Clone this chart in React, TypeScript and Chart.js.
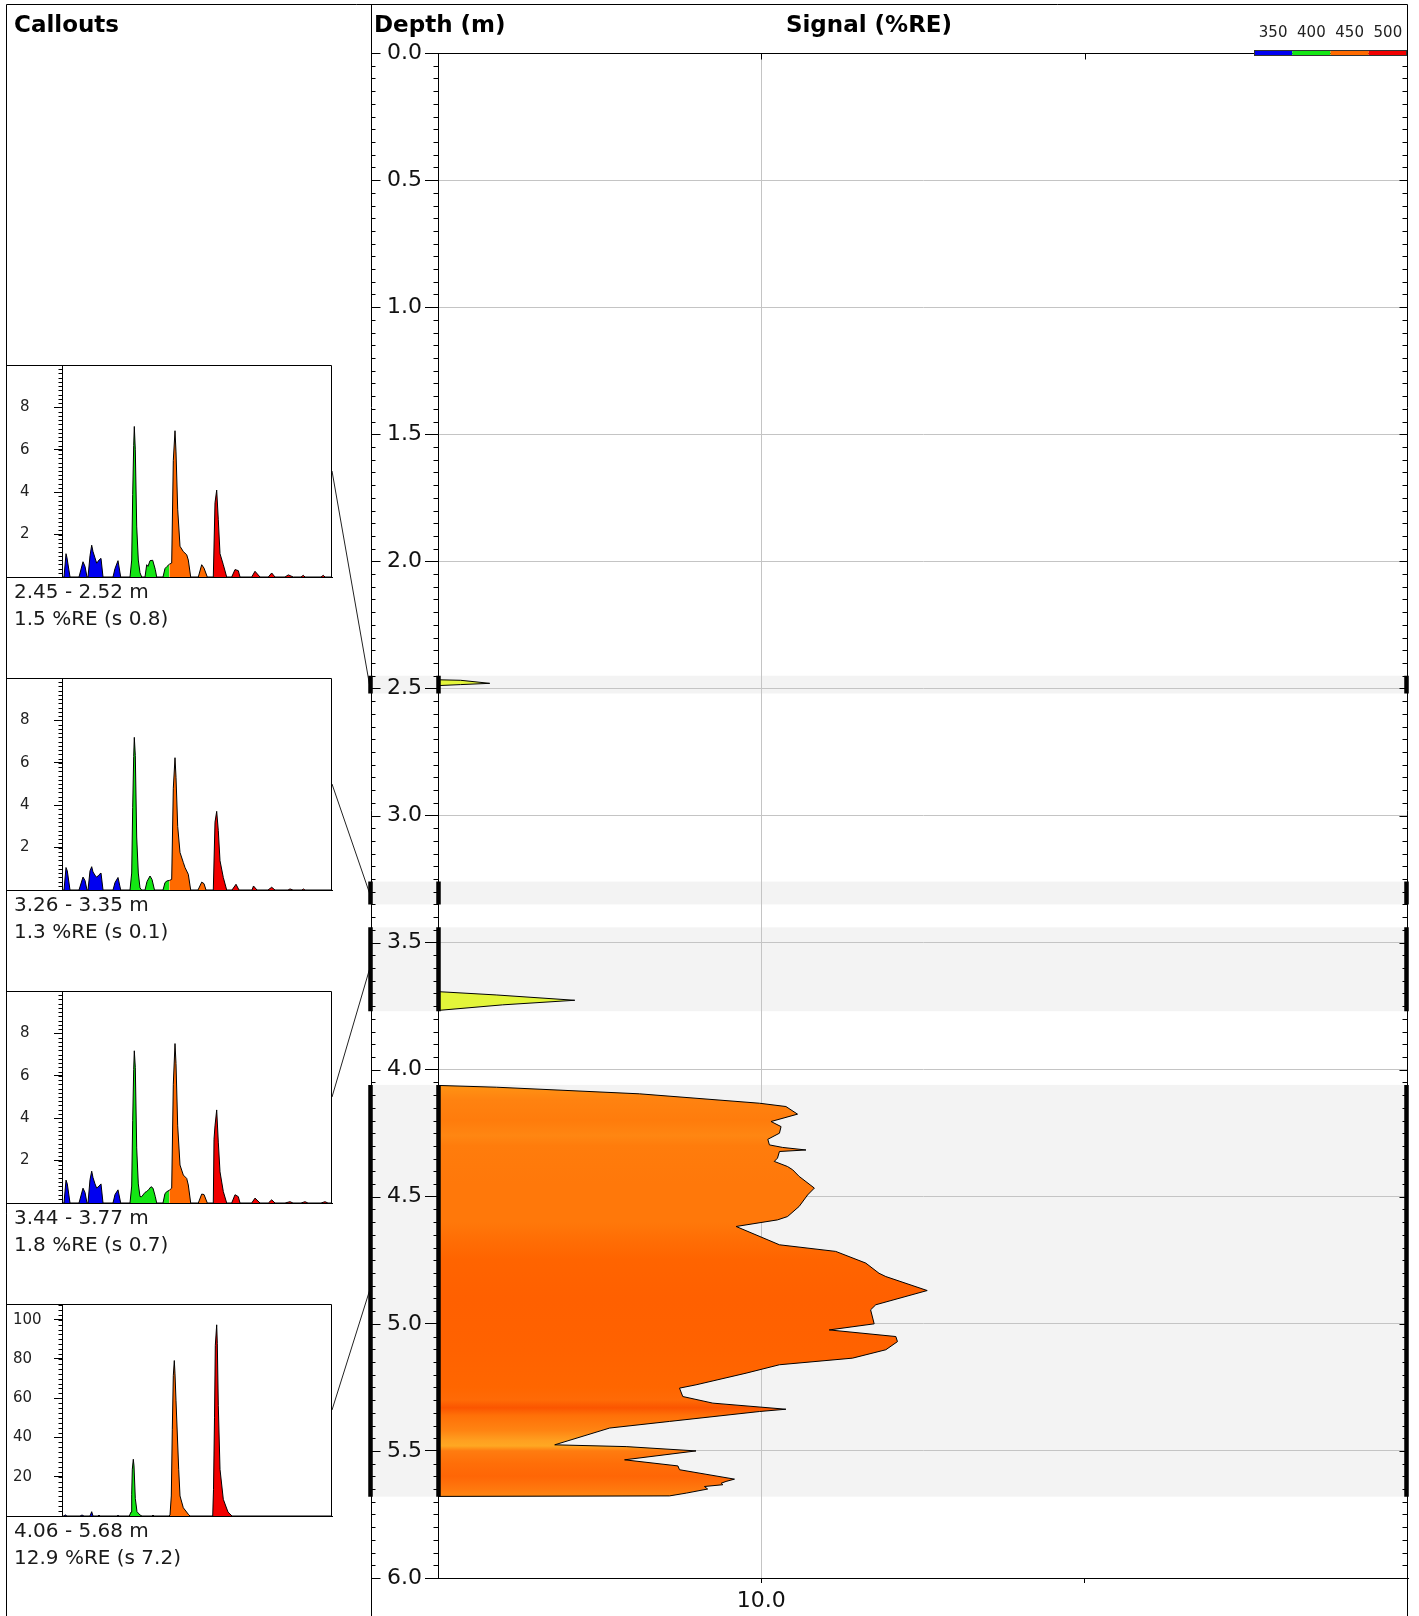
import { useEffect, useRef } from 'react';
import { Chart, registerables } from 'chart.js';

Chart.register(...registerables);

const FONT = "'DejaVu Sans', 'Liberation Sans', sans-serif";

// ---------- Depth ranges (callouts) ----------
const rangeStart = [2.45, 3.26, 3.44, 4.06];
const rangeEnd = [2.52, 3.35, 3.77, 5.68];
const rangeMean = [1.5, 1.3, 1.8, 12.9];
const rangeSd = [0.8, 0.1, 0.7, 7.2];

// ---------- Main log profile (signal %RE vs depth m) ----------
const profileSignal = [0, 1.81, 6.23, 9.94, 10.76, 11.12, 10.3, 10.61, 10.56, 10.2, 10.25, 10.66, 11.38, 10.56, 10.5, 10.4, 10.81, 10.97, 11.17, 11.64, 11.43, 11.17, 10.81, 10.5, 9.22, 10.56, 12.3, 13.23, 13.64, 13.85, 15.13, 13.54, 13.38, 13.49, 12.1, 14.16, 14.21, 13.85, 12.82, 10.56, 9.53, 7.98, 7.47, 7.57, 8.5, 10.76, 9.94, 7.16, 5.31, 3.61, 5.82, 7.98, 5.77, 7.42, 7.47, 9.17, 8.91, 8.76, 8.81, 8.24, 8.34, 7.68, 7.16, 0, 0];
const profileDepth = [4.062, 4.069, 4.095, 4.132, 4.145, 4.175, 4.204, 4.224, 4.25, 4.274, 4.296, 4.306, 4.316, 4.322, 4.348, 4.361, 4.381, 4.394, 4.42, 4.466, 4.493, 4.538, 4.578, 4.591, 4.617, 4.689, 4.715, 4.761, 4.801, 4.814, 4.869, 4.925, 4.945, 5.0, 5.024, 5.05, 5.07, 5.102, 5.135, 5.161, 5.194, 5.24, 5.253, 5.286, 5.312, 5.336, 5.345, 5.384, 5.41, 5.476, 5.483, 5.5, 5.535, 5.559, 5.574, 5.611, 5.62, 5.627, 5.633, 5.64, 5.65, 5.666, 5.677, 5.679, 4.062];
const profileColorDepth = [4.06, 4.12, 4.2, 4.26, 4.3, 4.45, 4.6, 4.68, 4.75, 4.9, 5.1, 5.25, 5.3, 5.33, 5.36, 5.42, 5.46, 5.48, 5.5, 5.55, 5.6, 5.65, 5.68];
const profileColor = ['#ff9414', '#ff8210', '#ff7c0c', '#ff8612', '#ff7c0c', '#ff780a', '#ff780a', '#ff6c04', '#ff6400', '#ff6000', '#ff6200', '#ff6600', '#ff6a06', '#fb5500', '#ff7008', '#ff8412', '#ffa020', '#ffa822', '#ff7c10', '#ff6e08', '#ff6606', '#ff780e', '#ff8812'];

const spikeASignal = [0, 0.7, 1.6, 0.7, 0, 0];
const spikeADepth = [2.466, 2.468, 2.48, 2.485, 2.489, 2.466];
const spikeBSignal = [0, 1.8, 4.23, 2.0, 0, 0];
const spikeBDepth = [3.693, 3.706, 3.727, 3.745, 3.767, 3.693];

// ---------- Legend ----------
const legendWavelengths = ['350', '400', '450', '500'];
const channelColors = ['#0000f0', '#14e614', '#ff6a00', '#f20000'];

// ---------- Callout waveforms: [time, signal] ----------
const box1Blue = [[0, 0], [2, 0], [4, 1.1], [5, 0.9], [8, 0], [17, 0], [21, 0.72], [23, 0.5], [25, 0], [26, 0], [28, 1.0], [29.7, 1.5], [31, 1.2], [33, 0.9], [34.7, 0.65], [37, 0.8], [39, 0.88], [41, 0], [51, 0], [53, 0.4], [56, 0.77], [58.7, 0], [68, 0]];
const box1Green = [[68, 0], [69.7, 0.8], [70.7, 3.9], [71.7, 6.2], [72.3, 7.1], [73.3, 6.0], [74.7, 2.4], [76.3, 0.8], [78, 0.2], [79.7, 0], [83, 0], [84.7, 0.58], [86, 0.5], [88, 0.77], [90.7, 0.79], [93.3, 0.35], [94.7, 0], [101, 0], [103, 0.4], [105, 0.5], [107.3, 0.6]];
const box1Orange = [[107.3, 0.6], [109.7, 0.66], [111.3, 5.5], [113, 6.9], [114, 5.9], [115.7, 3.2], [118, 1.45], [121.3, 1.2], [124.7, 1.05], [126.3, 0.8], [128.7, 0], [136.3, 0], [139.7, 0.58], [142, 0.42], [145.3, 0], [151.3, 0]];
const box1Red = [[151.3, 0], [153, 3.5], [154.7, 4.1], [156.3, 2.7], [158, 1.1], [161.3, 0.58], [164.7, 0], [169.7, 0], [173, 0.35], [176.3, 0.3], [178, 0], [189.7, 0], [193, 0.27], [198, 0], [206.3, 0], [209.7, 0.19], [213, 0], [223, 0], [226.3, 0.1], [231.3, 0], [239, 0], [241.3, 0.08], [243, 0], [259, 0], [261.3, 0.08], [263, 0], [270, 0]];

const box2Blue = [[0, 0], [2, 0], [4, 1.06], [5.3, 0.9], [8, 0], [17, 0], [21, 0.61], [23, 0.45], [25, 0], [26, 0], [28, 0.9], [29.7, 1.1], [31, 0.85], [33, 0.7], [34.7, 0.6], [37, 0.72], [39, 0.8], [41, 0], [51, 0], [53, 0.35], [56, 0.59], [58.7, 0], [68, 0]];
const box2Green = [[68, 0], [69.7, 0.8], [70.7, 3.9], [71.7, 6.3], [72.3, 7.2], [73.3, 6.35], [74.7, 2.5], [76.3, 0.8], [78, 0.1], [79.7, 0], [83, 0], [85, 0.4], [88, 0.66], [90, 0.5], [92.5, 0], [101, 0], [103, 0.35], [105, 0.43], [107.3, 0.45]];
const box2Orange = [[107.3, 0.45], [109.7, 0.5], [111.3, 4.8], [113, 6.24], [114, 5.32], [115.7, 3.0], [118, 1.77], [121.3, 1.3], [123, 1.06], [126.3, 0.74], [128.7, 0], [136, 0], [139.7, 0.37], [142, 0.3], [144, 0], [151.3, 0]];
const box2Red = [[151.3, 0], [153, 3.2], [154.7, 3.71], [156.3, 2.8], [158, 1.38], [161.3, 0.59], [164.7, 0], [170, 0], [174, 0.27], [177, 0], [190, 0], [191.5, 0.19], [195, 0], [206, 0], [209.7, 0.13], [213, 0], [226, 0], [228, 0.05], [231, 0], [240, 0], [241.3, 0.05], [243, 0], [270, 0]];

const box3Blue = [[0, 0], [2, 0], [4, 1.08], [5.3, 0.9], [8, 0], [17, 0], [21, 0.7], [23, 0.5], [25, 0], [26, 0], [28, 1.1], [29.7, 1.5], [31, 1.2], [33, 0.9], [34.7, 0.7], [37, 0.8], [39, 0.9], [41, 0], [51, 0], [53, 0.4], [56, 0.62], [58.7, 0], [68, 0]];
const box3Green = [[68, 0], [69.7, 0.8], [70.7, 3.9], [71.7, 6.3], [72.3, 7.18], [73.3, 6.4], [74.7, 2.6], [76.3, 0.9], [78, 0.3], [79.7, 0.3], [83, 0.5], [84.7, 0.54], [87, 0.65], [89, 0.77], [91, 0.7], [93.3, 0.3], [94.7, 0], [101, 0], [103, 0.45], [105, 0.54], [107.3, 0.6]];
const box3Orange = [[107.3, 0.6], [109.7, 0.7], [111.3, 5.6], [113, 7.52], [114, 6.58], [115.7, 3.64], [118, 1.79], [121.3, 1.32], [124.7, 1.16], [126.3, 0.85], [128.7, 0], [136.3, 0], [139.7, 0.42], [142, 0.4], [145.3, 0], [151.3, 0]];
const box3Red = [[151.3, 0], [152, 3.0], [153, 3.64], [154.7, 4.39], [156.3, 2.87], [158, 1.47], [161.3, 0.54], [164.7, 0], [169.7, 0], [173, 0.39], [176.3, 0.3], [178, 0], [189.7, 0], [193, 0.23], [198, 0], [206.3, 0], [209.7, 0.15], [213, 0], [223, 0], [228, 0.06], [231, 0], [239, 0], [243, 0.06], [246, 0], [259, 0], [263, 0.06], [266, 0], [270, 0]];

const box4Blue = [[0, 0], [2, 0], [3, 0.6], [5, 0], [18, 0], [20, 0.5], [22, 0], [28, 0], [29.7, 2.2], [31, 0], [36, 0], [37, 0.5], [38, 0], [55, 0], [56, 0.4], [57, 0], [68, 0]];
const box4Green = [[67.3, 0], [69, 2], [69.7, 11.1], [70.3, 23.8], [71.3, 28.9], [72, 25.5], [73.3, 8.9], [75, 2.2], [78, 0.5], [80, 0], [90, 0], [91, 0.5], [92, 0], [107, 0]];
const box4Orange = [[107, 0], [108, 0.5], [109.3, 10.2], [110.3, 44.2], [111.3, 71.5], [112.3, 79.2], [113, 72.4], [114, 58.7], [116.7, 23.8], [118, 10.2], [121.3, 4.2], [126.3, 0.9], [128, 0], [151, 0]];
const box4Red = [[150.7, 0], [151.5, 13.6], [152.5, 50], [153.3, 86.9], [154.7, 97.4], [155.3, 88], [156.3, 56.2], [158, 23.8], [161.3, 8.5], [166, 2], [170, 0], [270, 0]];

const calloutSpectra = [
  [box1Blue, box1Green, box1Orange, box1Red],
  [box2Blue, box2Green, box2Orange, box2Red],
  [box3Blue, box3Green, box3Orange, box3Red],
  [box4Blue, box4Green, box4Orange, box4Red],
];
const calloutYMax = [10, 10, 10, 108];
const calloutTickValues = [[2, 4, 6, 8], [2, 4, 6, 8], [2, 4, 6, 8], [20, 40, 60, 80, 100]];
const calloutMinorStep = [0.2, 0.2, 0.2, 2.5];

// ---------- Layout constants ----------
const W = 1419;
const H = 1616;
const PANEL_LEFT = 6.5;
const DIVIDER_X = 371.5;
const FRAME_TOP = 4.5;
const BOX_TOPS = [365, 678, 991, 1304];
const BOX_H = 212;
const BOX_RIGHT = 332;
const BOX_PAD = 12;
const LABEL_PAD = [20, 20, 20, 13];
const GRID = '#c4c4c4';
const BAND = '#f3f3f3';
const SPIKE_COLOR = '#e3f53a';
const MINOR_STEP = 0.05;
const LEGEND_X0 = 1254;
const LEGEND_SEG = 38.25;

function toPts(xs: number[], ys: number[]) {
  return xs.map((x, i) => ({ x, y: ys[i] }));
}

const mainDecor = {
  id: 'mainDecor',
  beforeDraw(chart: any) {
    const { ctx, chartArea } = chart;
    const y = chart.scales.y;
    ctx.save();
    ctx.fillStyle = BAND;
    rangeStart.forEach((s, i) => {
      const a = y.getPixelForValue(s);
      const b = y.getPixelForValue(rangeEnd[i]);
      ctx.fillRect(DIVIDER_X, a, chartArea.right - DIVIDER_X, b - a);
    });
    ctx.restore();
  },
  afterDraw(chart: any) {
    const { ctx, chartArea: ca } = chart;
    const y = chart.scales.y;
    const x = chart.scales.x;
    const R = Math.round(ca.right) - 0.5;
    const L = Math.round(ca.left) + 0.5;
    ctx.save();
    ctx.strokeStyle = '#000';
    ctx.lineWidth = 1;
    ctx.beginPath();
    ctx.moveTo(PANEL_LEFT, FRAME_TOP);
    ctx.lineTo(R, FRAME_TOP);
    ctx.moveTo(PANEL_LEFT, FRAME_TOP);
    ctx.lineTo(PANEL_LEFT, H);
    ctx.moveTo(DIVIDER_X, FRAME_TOP);
    ctx.lineTo(DIVIDER_X, H);
    ctx.moveTo(R, FRAME_TOP);
    ctx.lineTo(R, H);
    const topY = Math.round(ca.top) + 0.5;
    const botY = Math.round(ca.bottom) + 0.5;
    ctx.moveTo(L, topY);
    ctx.lineTo(R, topY);
    ctx.moveTo(L, botY);
    ctx.lineTo(R, botY);
    ctx.moveTo(L, topY);
    ctx.lineTo(L, botY);
    // minor / major ticks
    const n = Math.round((y.max - y.min) / MINOR_STEP);
    for (let i = 0; i <= n; i++) {
      const py = Math.round(y.getPixelForValue(y.min + i * MINOR_STEP)) + 0.5;
      const major = i % 10 === 0;
      ctx.moveTo(DIVIDER_X, py);
      ctx.lineTo(DIVIDER_X + (major ? 9 : 4), py);
      if (!major) {
        ctx.moveTo(L, py);
        ctx.lineTo(L - 5, py);
      }
      ctx.moveTo(R, py);
      ctx.lineTo(R - (major ? 8 : 5), py);
    }
    [10, 20].forEach((v) => {
      const px = Math.round(x.getPixelForValue(v)) + 0.5;
      ctx.moveTo(px, topY);
      ctx.lineTo(px, topY + 6);
    });
    ctx.stroke();

    // connectors from callout boxes to depth ranges
    ctx.beginPath();
    ctx.strokeStyle = '#222';
    rangeStart.forEach((s, i) => {
      const mid = (s + rangeEnd[i]) / 2;
      ctx.moveTo(BOX_RIGHT, BOX_TOPS[i] + BOX_H / 2);
      ctx.lineTo(DIVIDER_X - 2, y.getPixelForValue(mid));
    });
    ctx.stroke();

    // thick range markers
    ctx.strokeStyle = '#000';
    ctx.lineWidth = 4.5;
    ctx.lineCap = 'butt';
    ctx.beginPath();
    rangeStart.forEach((s, i) => {
      const a = y.getPixelForValue(s);
      const b = y.getPixelForValue(rangeEnd[i]);
      [DIVIDER_X - 1, L, R - 1].forEach((xx) => {
        ctx.moveTo(xx, a);
        ctx.lineTo(xx, b);
      });
    });
    ctx.stroke();

    // wavelength legend bar
    legendWavelengths.forEach((_, i) => {
      ctx.fillStyle = channelColors[i];
      ctx.fillRect(LEGEND_X0 + i * LEGEND_SEG, 50, LEGEND_SEG, 6);
    });
    ctx.lineWidth = 1;
    ctx.strokeStyle = '#333';
    ctx.strokeRect(LEGEND_X0 + 0.5, 50.5, LEGEND_SEG * 4 - 1, 5);
    ctx.restore();
  },
};

const calloutDecor = {
  id: 'calloutDecor',
  afterDraw(chart: any, _args: any, opts: any) {
    const { ctx, chartArea: ca } = chart;
    const y = chart.scales.y;
    const t = Math.round(ca.top) + 0.5;
    const b = Math.round(ca.bottom) + 0.5;
    const r = Math.round(ca.right) - 0.5;
    const l = Math.round(ca.left) + 0.5;
    ctx.save();
    ctx.strokeStyle = '#000';
    ctx.lineWidth = 1;
    ctx.beginPath();
    ctx.rect(PANEL_LEFT, t, r - PANEL_LEFT, b - t);
    ctx.moveTo(l, t);
    ctx.lineTo(l, b);
    const step = opts.minorStep;
    const n = Math.floor(y.max / step + 1e-6);
    for (let i = 1; i <= n; i++) {
      const py = Math.round(y.getPixelForValue(i * step)) + 0.5;
      ctx.moveTo(l, py);
      ctx.lineTo(l - 4, py);
    }
    ctx.stroke();
    ctx.restore();
  },
};

function mainConfig(): any {
  return {
    type: 'scatter',
    data: {
      datasets: [
        {
          data: toPts(profileSignal, profileDepth),
          showLine: true,
          fill: 'shape',
          borderColor: '#000',
          borderWidth: 1,
          pointRadius: 0,
          tension: 0,
          backgroundColor: (c: any) => {
            const chart = c.chart;
            const ys = chart.scales && chart.scales.y;
            if (!ys) return profileColor[0];
            const y0 = ys.getPixelForValue(profileColorDepth[0]);
            const y1 = ys.getPixelForValue(profileColorDepth[profileColorDepth.length - 1]);
            if (!isFinite(y0) || !isFinite(y1) || y1 === y0) return profileColor[0];
            const g = chart.ctx.createLinearGradient(0, y0, 0, y1);
            profileColorDepth.forEach((d, i) => {
              const p = (ys.getPixelForValue(d) - y0) / (y1 - y0);
              g.addColorStop(Math.min(1, Math.max(0, p)), profileColor[i]);
            });
            return g;
          },
        },
        {
          data: toPts(spikeASignal, spikeADepth),
          showLine: true,
          fill: 'shape',
          backgroundColor: SPIKE_COLOR,
          borderColor: '#000',
          borderWidth: 1,
          pointRadius: 0,
        },
        {
          data: toPts(spikeBSignal, spikeBDepth),
          showLine: true,
          fill: 'shape',
          backgroundColor: SPIKE_COLOR,
          borderColor: '#000',
          borderWidth: 1,
          pointRadius: 0,
        },
      ],
    },
    options: {
      responsive: false,
      maintainAspectRatio: false,
      animation: false,
      events: [],
      layout: { padding: { top: 53, right: 11, left: 0, bottom: 0 } },
      plugins: { legend: { display: false }, tooltip: { enabled: false } },
      scales: {
        x: {
          type: 'linear',
          position: 'bottom',
          min: 0,
          max: 30,
          afterFit: (s: any) => { s.height = 38; },
          ticks: {
            stepSize: 10,
            autoSkip: false,
            maxRotation: 0,
            padding: 5,
            color: '#111',
            font: { family: FONT, size: 22 },
            callback: (v: any) => (v === 10 ? '10.0' : v === 20 ? '' : null),
          },
          grid: {
            color: (c: any) => (c.tick && c.tick.value === 10 ? GRID : 'rgba(0,0,0,0)'),
            tickColor: '#000',
            tickLength: 5,
          },
          border: { color: '#000' },
        },
        y: {
          type: 'linear',
          reverse: true,
          min: 0,
          max: 6,
          afterFit: (s: any) => { s.width = 438; },
          ticks: {
            stepSize: 0.5,
            autoSkip: false,
            padding: 3,
            color: '#111',
            font: { family: FONT, size: 22 },
            callback: (v: any) => Number(v).toFixed(1),
          },
          grid: { color: GRID, tickColor: '#000', tickLength: 13 },
          border: { color: '#000' },
        },
      },
    },
    plugins: [mainDecor],
  };
}

function calloutConfig(i: number): any {
  const max = calloutYMax[i];
  const pl = LABEL_PAD[i];
  const tickVals = calloutTickValues[i];
  return {
    type: 'line',
    data: {
      datasets: calloutSpectra[i].map((pts, c) => ({
        data: pts.map(([x, y]) => ({ x, y })),
        borderColor: '#000',
        borderWidth: 1,
        backgroundColor: channelColors[c],
        fill: 'origin',
        pointRadius: 0,
        tension: 0,
      })),
    },
    options: {
      responsive: false,
      maintainAspectRatio: false,
      animation: false,
      events: [],
      layout: { padding: { top: BOX_PAD, right: 340 - BOX_RIGHT, bottom: 0, left: pl } },
      plugins: {
        legend: { display: false },
        tooltip: { enabled: false },
        calloutDecor: { minorStep: calloutMinorStep[i] },
      },
      scales: {
        x: {
          type: 'linear',
          min: 0,
          max: 270,
          ticks: { display: false },
          grid: { display: false },
          border: { display: true, color: '#000' },
          afterFit: (s: any) => { s.height = BOX_PAD; },
        },
        y: {
          type: 'linear',
          min: 0,
          max,
          afterFit: (s: any) => { s.width = 62 - pl; },
          afterBuildTicks: (s: any) => { s.ticks = tickVals.map((v) => ({ value: v })); },
          ticks: {
            autoSkip: false,
            crossAlign: 'far',
            padding: 0,
            color: '#222',
            font: { family: FONT, size: 15 },
            callback: (v: any) => String(v),
          },
          grid: { drawOnChartArea: false, tickLength: 8, color: '#000' },
          border: { color: '#000' },
        },
      },
    },
    plugins: [calloutDecor],
  };
}

const titleStyle: any = {
  position: 'absolute',
  fontFamily: FONT,
  fontWeight: 'bold',
  fontSize: 23,
  lineHeight: '23px',
  whiteSpace: 'nowrap',
  color: '#000',
  top: 13,
};

export default function App() {
  const mainRef = useRef<HTMLCanvasElement | null>(null);
  const boxRefs = useRef<(HTMLCanvasElement | null)[]>([]);

  useEffect(() => {
    document.body.style.margin = '0';
    const charts: any[] = [];
    if (mainRef.current) charts.push(new Chart(mainRef.current, mainConfig()));
    boxRefs.current.forEach((cv, i) => {
      if (cv) charts.push(new Chart(cv, calloutConfig(i)));
    });
    return () => charts.forEach((c) => c.destroy());
  }, []);

  return (
    <div style={{ position: 'relative', width: W, height: H, background: '#fff', overflow: 'hidden' }}>
      <canvas ref={mainRef} width={W} height={H} style={{ position: 'absolute', left: 0, top: 0 }} />
      {BOX_TOPS.map((t, i) => (
        <canvas
          key={'c' + i}
          ref={(el) => { boxRefs.current[i] = el; }}
          width={340}
          height={BOX_H + 2 * BOX_PAD}
          style={{ position: 'absolute', left: 0, top: t - BOX_PAD }}
        />
      ))}
      <div style={{ ...titleStyle, left: 14 }}>Callouts</div>
      <div style={{ ...titleStyle, left: 374 }}>Depth (m)</div>
      <div style={{ ...titleStyle, left: 869, transform: 'translateX(-50%)' }}>Signal (%RE)</div>
      {legendWavelengths.map((w, i) => (
        <div
          key={'l' + i}
          style={{
            position: 'absolute',
            left: LEGEND_X0 + (i + 0.5) * LEGEND_SEG,
            top: 25,
            transform: 'translateX(-50%)',
            fontFamily: FONT,
            fontSize: 15,
            lineHeight: '15px',
            color: '#222',
            whiteSpace: 'nowrap',
          }}
        >
          {w}
        </div>
      ))}
      {BOX_TOPS.map((t, i) => (
        <div
          key={'t' + i}
          style={{
            position: 'absolute',
            left: 14,
            top: t + BOX_H + 1,
            fontFamily: FONT,
            fontSize: 20,
            lineHeight: '27px',
            color: '#1a1a1a',
            whiteSpace: 'nowrap',
          }}
        >
          <div>{`${rangeStart[i].toFixed(2)} - ${rangeEnd[i].toFixed(2)} m`}</div>
          <div>{`${rangeMean[i].toFixed(1)} %RE (s ${rangeSd[i].toFixed(1)})`}</div>
        </div>
      ))}
    </div>
  );
}
